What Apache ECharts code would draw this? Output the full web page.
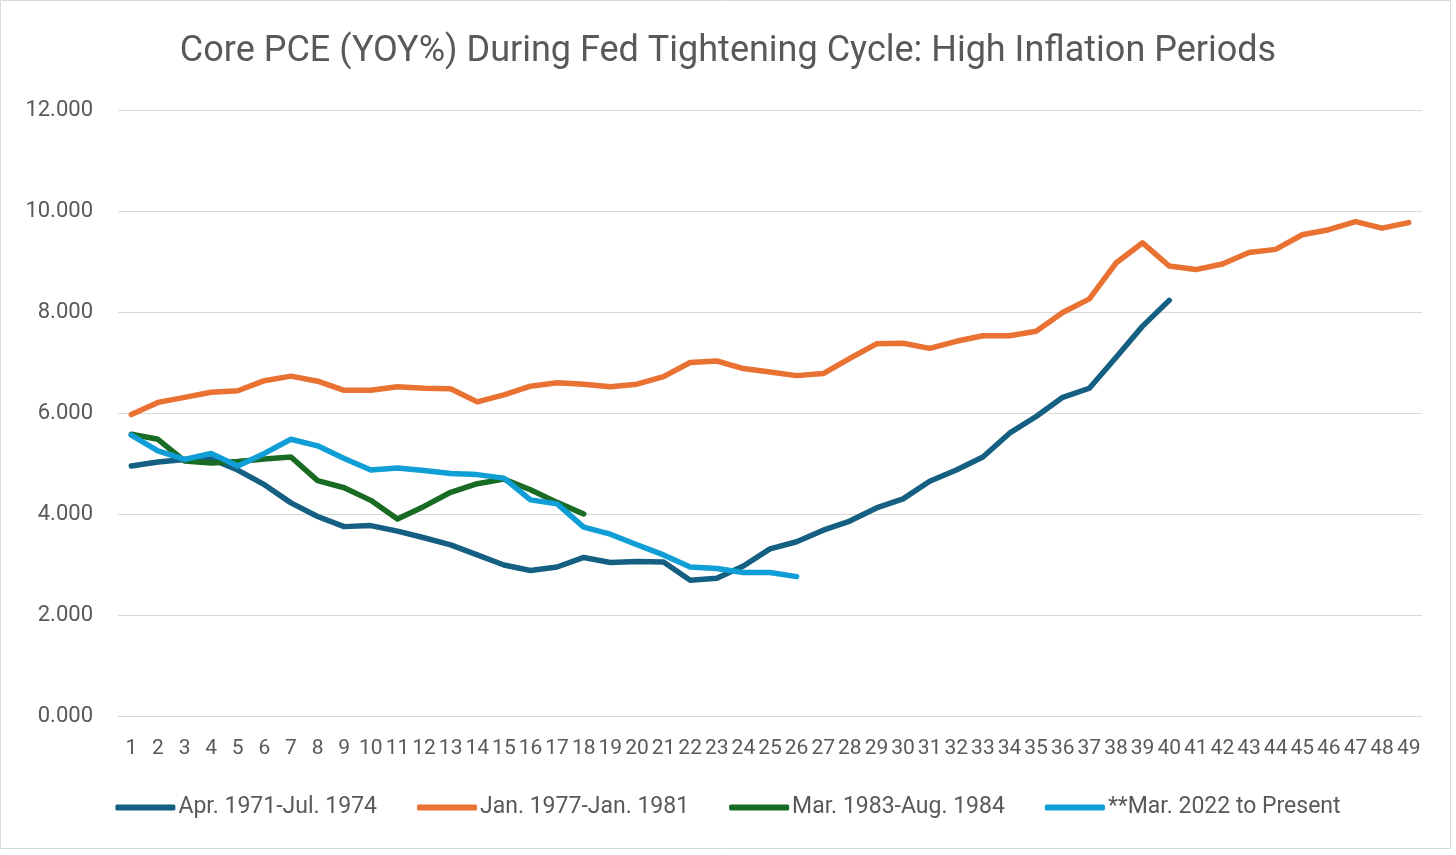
<!DOCTYPE html>
<html>
<head>
<meta charset="utf-8">
<script src="https://cdn.jsdelivr.net/npm/echarts@6/dist/echarts.min.js"></script>
<style>
html,body{margin:0;padding:0;background:#fff;}
#chart{width:1456px;height:855px;}
</style>
</head>
<body>
<div id="chart"></div>
<script>
const categories = Array.from({length: 49}, (_, i) => String(i + 1));
const seriesNames = ["Apr. 1971-Jul. 1974", "Jan. 1977-Jan. 1981", "Mar. 1983-Aug. 1984", "**Mar. 2022 to Present"];
const apr1971 = [4.95,5.03,5.08,5.09,4.87,4.58,4.22,3.95,3.75,3.77,3.66,3.53,3.39,3.19,2.99,2.88,2.95,3.14,3.04,3.06,3.05,2.69,2.73,2.97,3.31,3.45,3.68,3.86,4.12,4.30,4.65,4.87,5.13,5.60,5.93,6.31,6.49,7.10,7.72,8.23];
const jan1977 = [5.97,6.21,6.31,6.41,6.44,6.64,6.73,6.63,6.45,6.45,6.52,6.49,6.48,6.22,6.36,6.53,6.60,6.57,6.52,6.57,6.72,7.00,7.03,6.88,6.81,6.74,6.78,7.08,7.37,7.38,7.28,7.42,7.53,7.53,7.62,7.99,8.26,8.97,9.37,8.91,8.84,8.95,9.18,9.24,9.53,9.63,9.79,9.66,9.77];
const mar1983 = [5.58,5.48,5.05,5.01,5.04,5.09,5.13,4.66,4.52,4.27,3.90,4.15,4.43,4.60,4.69,4.48,4.23,4.00];
const mar2022 = [5.56,5.25,5.08,5.20,4.95,5.20,5.48,5.35,5.10,4.87,4.91,4.86,4.80,4.78,4.71,4.28,4.20,3.74,3.60,3.39,3.19,2.95,2.92,2.84,2.84,2.76];
const colors = ["#156082", "#E97132", "#196B24", "#0F9ED5"];
const FONT = "Roboto";

const chart = echarts.init(document.getElementById('chart'), null, {renderer: 'canvas'});
const mk = (name, data, color) => ({
  name, type: 'line', data, showSymbol: false, symbol: 'none',
  lineStyle: {color, width: 5.5, cap: 'round', join: 'round'},
  itemStyle: {color},
  animation: false
});
chart.setOption({
  animation: false,
  textStyle: {fontFamily: FONT},
  title: {
    text: "Core PCE (YOY%) During Fed Tightening Cycle: High Inflation Periods",
    left: 'center', top: 29,
    textStyle: {fontFamily: FONT, fontSize: 36, fontWeight: 'normal', color: '#595959'}
  },
  graphic: [{
    type: 'rect', shape: {x: 0.5, y: 0.5, width: 1450, height: 848},
    style: {fill: 'none', stroke: '#D9D9D9', lineWidth: 1}, silent: true
  }],
  legend: {
    data: seriesNames, top: 791, left: 'center',
    itemWidth: 60, itemHeight: 6, itemGap: 40,
    icon: 'roundRect',
    textStyle: {fontFamily: FONT, fontSize: 23, color: '#595959', padding: [0, 0, 0, -2]}
  },
  grid: {left: 118, right: 34, top: 110, bottom: 139, containLabel: false},
  xAxis: {
    type: 'category', data: categories, boundaryGap: true,
    axisLine: {show: true, lineStyle: {color: '#D9D9D9', width: 1}},
    axisTick: {show: false},
    axisLabel: {interval: 0, margin: 22, fontFamily: FONT, fontSize: 21, color: '#595959'}
  },
  yAxis: {
    type: 'value', min: 0, max: 12, interval: 2,
    axisLine: {show: false}, axisTick: {show: false},
    splitLine: {lineStyle: {color: '#D9D9D9', width: 1}},
    axisLabel: {margin: 25, fontFamily: FONT, fontSize: 22, color: '#595959', formatter: v => v.toFixed(3)}
  },
  series: [
    mk(seriesNames[0], apr1971, colors[0]),
    mk(seriesNames[1], jan1977, colors[1]),
    mk(seriesNames[2], mar1983, colors[2]),
    mk(seriesNames[3], mar2022, colors[3])
  ]
});
</script>
</body>
</html>
